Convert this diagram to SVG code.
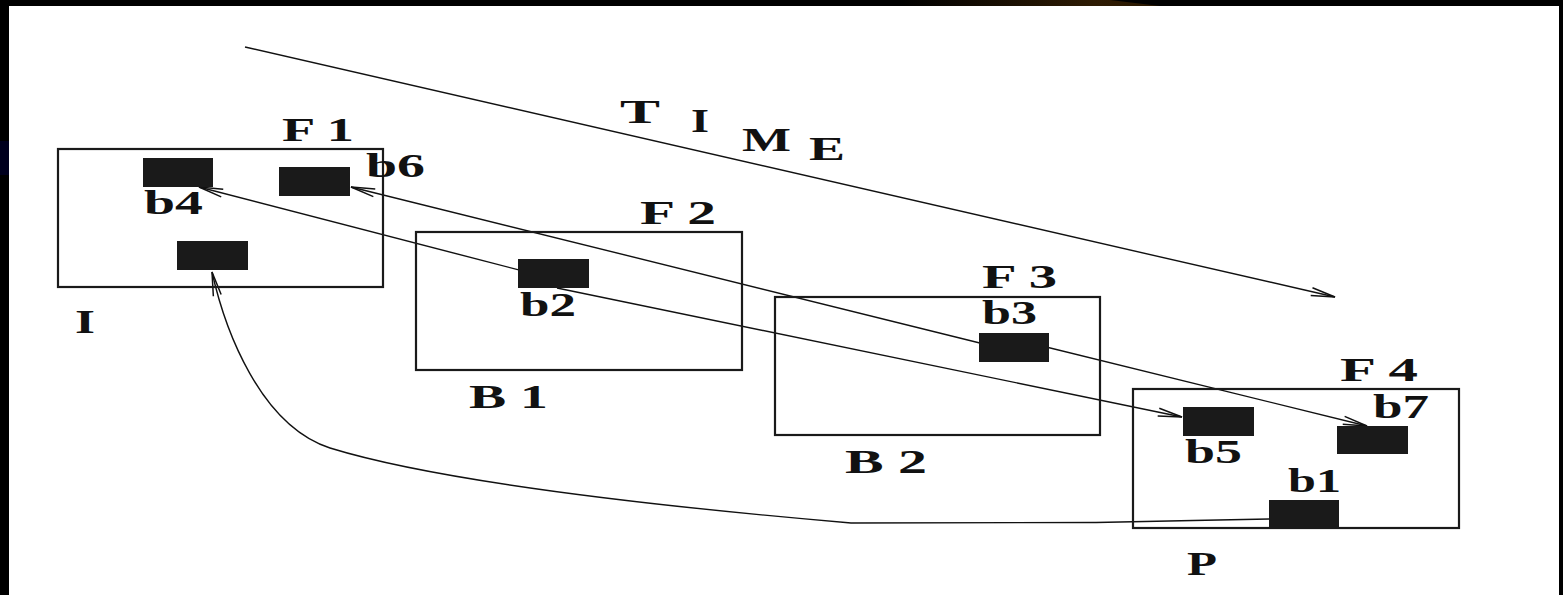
<svg xmlns="http://www.w3.org/2000/svg" width="1563" height="595" viewBox="0 0 1563 595">
  <style>
    .frame { fill: none; stroke: #1a1a1a; stroke-width: 2.2; }
    .blk { fill: #1a1a1a; stroke: none; }
    .lbl { font-family: "Liberation Serif", "Times New Roman", serif; font-size: 34px; font-weight: bold; fill: #111; }
    .conn { fill: none; stroke: #111; stroke-width: 1.4; stroke-linejoin: round; }
  </style>
  <defs>
    <marker id="arr" markerUnits="userSpaceOnUse" markerWidth="32" markerHeight="14" refX="26" refY="7" orient="auto" overflow="visible">
      <path d="M2,3 L26,7 L2,11" fill="none" stroke="#111" stroke-width="1.5"/>
    </marker>
    <linearGradient id="brown" x1="0" y1="0" x2="1" y2="0">
      <stop offset="0" stop-color="#000"/>
      <stop offset="0.75" stop-color="#2e1b03"/>
      <stop offset="1" stop-color="#2a1800"/>
    </linearGradient>
  </defs>

  <rect x="0" y="0" width="1563" height="595" fill="#fff"/>
  <g id="background">
    <rect x="0" y="0" width="1563" height="6" fill="#000"/>
    <polygon points="900,0 1110,0 1160,6 900,6" fill="url(#brown)"/>
    <rect x="0" y="0" width="9" height="595" fill="#000"/>
    <rect x="0" y="141" width="9" height="34" fill="#00001e"/>
    <rect x="1559" y="0" width="4" height="595" fill="#000"/>
  </g>

  <g id="connectors">
    <path id="time-arrow" class="conn" d="M245,47 L1335,297" marker-end="url(#arr)"/>
    <path id="b2-to-b4" class="conn" d="M550,278 L199,187" marker-end="url(#arr)"/>
    <path id="b2-to-b5" class="conn" d="M557,288 L1182,417" marker-end="url(#arr)"/>
    <path id="b3-to-b6" class="conn" d="M1000,348 L351,187" marker-end="url(#arr)"/>
    <path id="b3-to-b7" class="conn" d="M1030,343 L1367,426" marker-end="url(#arr)"/>
    <path id="b1-to-I" class="conn" d="M1305,518 L1269,519 L1193,520.5 L1096,522.5 L851,523 C700,510 450,485 330,448 C260,425 225,330 212,272" marker-end="url(#arr)"/>
  </g>

  <g id="time-label">
    <text class="lbl" x="620" y="123" textLength="40" lengthAdjust="spacingAndGlyphs">T</text>
    <text class="lbl" x="691" y="132" textLength="18" lengthAdjust="spacingAndGlyphs">I</text>
    <text class="lbl" x="742" y="151" textLength="49" lengthAdjust="spacingAndGlyphs">M</text>
    <text class="lbl" x="809" y="160" textLength="36" lengthAdjust="spacingAndGlyphs">E</text>
  </g>

  <g id="frame-I">
    <rect class="frame" x="58" y="149" width="325" height="138"/>
    <text class="lbl" x="282" y="141" textLength="72" lengthAdjust="spacingAndGlyphs">F 1</text>
    <text class="lbl" x="75" y="333" textLength="20" lengthAdjust="spacingAndGlyphs">I</text>
  </g>
  <g id="block-b4">
    <rect class="blk" x="143" y="158" width="70" height="29"/>
    <text class="lbl" x="144" y="214" textLength="59" lengthAdjust="spacingAndGlyphs">b4</text>
  </g>
  <g id="block-b6">
    <rect class="blk" x="279" y="167" width="71" height="29"/>
    <text class="lbl" x="366" y="177" textLength="59" lengthAdjust="spacingAndGlyphs">b6</text>
  </g>
  <g id="block-I">
    <rect class="blk" x="177" y="241" width="71" height="29"/>
  </g>

  <g id="frame-B1">
    <rect class="frame" x="416" y="232" width="326" height="138"/>
    <text class="lbl" x="640" y="224" textLength="76" lengthAdjust="spacingAndGlyphs">F 2</text>
    <text class="lbl" x="469" y="408" textLength="79" lengthAdjust="spacingAndGlyphs">B 1</text>
  </g>
  <g id="block-b2">
    <rect class="blk" x="518" y="259" width="71" height="29"/>
    <text class="lbl" x="520" y="316" textLength="56" lengthAdjust="spacingAndGlyphs">b2</text>
  </g>

  <g id="frame-B2">
    <rect class="frame" x="775" y="297" width="325" height="138"/>
    <text class="lbl" x="982" y="288" textLength="75" lengthAdjust="spacingAndGlyphs">F 3</text>
    <text class="lbl" x="845" y="473" textLength="82" lengthAdjust="spacingAndGlyphs">B 2</text>
  </g>
  <g id="block-b3">
    <rect class="blk" x="979" y="333" width="70" height="29"/>
    <text class="lbl" x="982" y="324" textLength="55" lengthAdjust="spacingAndGlyphs">b3</text>
  </g>

  <g id="frame-P">
    <rect class="frame" x="1133" y="389" width="326" height="139"/>
    <text class="lbl" x="1340" y="381" textLength="78" lengthAdjust="spacingAndGlyphs">F 4</text>
    <text class="lbl" x="1187" y="575" textLength="30" lengthAdjust="spacingAndGlyphs">P</text>
  </g>
  <g id="block-b5">
    <rect class="blk" x="1183" y="407" width="71" height="29"/>
    <text class="lbl" x="1185" y="463" textLength="57" lengthAdjust="spacingAndGlyphs">b5</text>
  </g>
  <g id="block-b7">
    <rect class="blk" x="1337" y="426" width="71" height="28"/>
    <text class="lbl" x="1373" y="418" textLength="56" lengthAdjust="spacingAndGlyphs">b7</text>
  </g>
  <g id="block-b1">
    <rect class="blk" x="1269" y="500" width="70" height="28"/>
    <text class="lbl" x="1288" y="492" textLength="53" lengthAdjust="spacingAndGlyphs">b1</text>
  </g>
</svg>
